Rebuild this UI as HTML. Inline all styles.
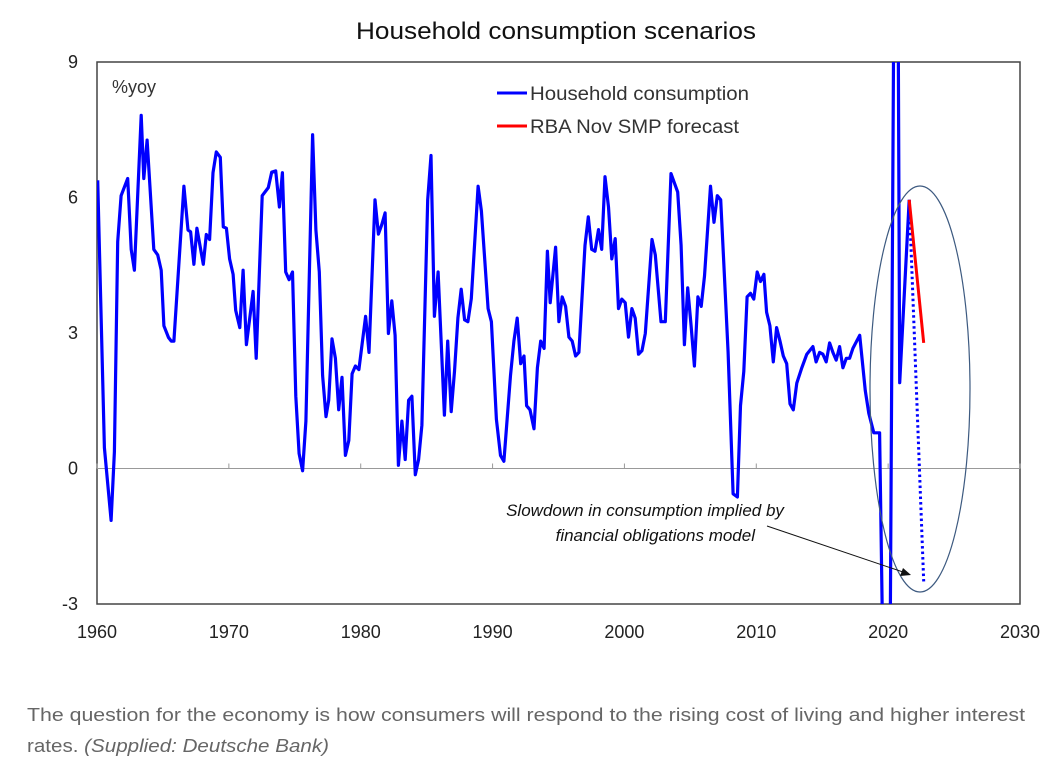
<!DOCTYPE html>
<html><head><meta charset="utf-8"><style>
html,body{margin:0;padding:0;background:#fff;overflow:hidden;width:1048px;height:768px;}
svg{display:block;font-family:"Liberation Sans",sans-serif;}
</style></head><body>
<svg id="chart" width="1048" height="768" viewBox="0 0 1048 768">
<text x="556" y="39" text-anchor="middle" font-size="24" fill="#111" textLength="400" lengthAdjust="spacingAndGlyphs">Household consumption scenarios</text>
<rect x="97" y="62" width="923" height="542" fill="none" stroke="#444" stroke-width="1.5"/>
<g id="axes"></g>
<text x="112" y="93" font-size="18" fill="#333">%yoy</text>
<line x1="497" y1="93" x2="527" y2="93" stroke="#0000ff" stroke-width="3"/>
<text x="530" y="100" font-size="19" fill="#333" textLength="219" lengthAdjust="spacingAndGlyphs">Household consumption</text>
<line x1="497" y1="126" x2="527" y2="126" stroke="#ff0000" stroke-width="3"/>
<text x="530" y="133" font-size="19" fill="#333" textLength="209" lengthAdjust="spacingAndGlyphs">RBA Nov SMP forecast</text>
<g id="series"></g>
<ellipse cx="920" cy="389" rx="50" ry="203" fill="none" stroke="#3d5a80" stroke-width="1.2"/>
<text x="645" y="516" text-anchor="middle" font-size="17" font-style="italic" fill="#111">Slowdown in consumption implied by</text>
<text x="755" y="541" text-anchor="end" font-size="17" font-style="italic" fill="#111">financial obligations model</text>
<line x1="767" y1="526" x2="903" y2="572" stroke="#111" stroke-width="1"/>
<polygon points="911,575 900,576 903,568" fill="#111"/>
<text x="27" y="721" font-size="18" fill="#666" textLength="998" lengthAdjust="spacingAndGlyphs">The question for the economy is how consumers will respond to the rising cost of living and higher interest</text>
<text x="27" y="752" font-size="18" fill="#666" textLength="302" lengthAdjust="spacingAndGlyphs">rates. <tspan font-style="italic">(Supplied: Deutsche Bank)</tspan></text>
</svg>
<script>
const years=[1960.05,1960.56,1961.07,1961.32,1961.57,1961.83,1962.33,1962.59,1962.84,1963.35,1963.55,1963.8,1964.31,1964.6,1964.87,1965.07,1965.42,1965.63,1965.83,1966.59,1966.9,1967.1,1967.35,1967.58,1968.06,1968.29,1968.54,1968.8,1969.05,1969.35,1969.58,1969.81,1970.06,1970.32,1970.52,1970.83,1971.08,1971.33,1971.84,1972.07,1972.53,1972.99,1973.25,1973.55,1973.83,1974.06,1974.31,1974.57,1974.83,1975.08,1975.33,1975.59,1975.84,1976.35,1976.6,1976.86,1977.11,1977.37,1977.57,1977.82,1978.08,1978.33,1978.58,1978.84,1979.1,1979.35,1979.6,1979.86,1980.37,1980.63,1981.08,1981.34,1981.6,1981.85,1982.1,1982.36,1982.61,1982.86,1983.12,1983.37,1983.63,1983.88,1984.14,1984.39,1984.64,1985.08,1985.33,1985.59,1985.87,1986.35,1986.6,1986.86,1987.11,1987.37,1987.62,1987.88,1988.13,1988.39,1988.9,1989.15,1989.66,1989.91,1990.29,1990.6,1990.86,1991.36,1991.62,1991.87,1992.13,1992.38,1992.58,1992.84,1993.14,1993.4,1993.65,1993.91,1994.16,1994.37,1994.78,1995.03,1995.28,1995.54,1995.79,1996.04,1996.3,1996.55,1997.01,1997.26,1997.52,1997.77,1998.03,1998.28,1998.53,1998.79,1999.04,1999.3,1999.55,1999.8,2000.06,2000.31,2000.57,2000.82,2001.07,2001.33,2001.58,2002.09,2002.34,2002.77,2003.1,2003.53,2004.04,2004.3,2004.55,2004.8,2005.06,2005.31,2005.57,2005.82,2006.07,2006.53,2006.79,2007.04,2007.3,2007.6,2007.86,2008.24,2008.57,2008.8,2009.05,2009.3,2009.56,2009.81,2010.07,2010.32,2010.58,2010.78,2011.03,2011.29,2011.54,2011.8,2012.05,2012.31,2012.56,2012.81,2013.07,2013.45,2013.83,2014.29,2014.54,2014.8,2015.05,2015.3,2015.56,2015.81,2016.06,2016.32,2016.57,2016.83,2017.08,2017.33,2017.84,2018.27,2018.53,2018.91,2019.35,2020.0,2020.62,2020.88,2021.6];
const values=[6.38,0.46,-1.15,0.37,5.02,6.04,6.42,4.85,4.39,7.82,6.42,7.27,4.85,4.73,4.39,3.16,2.9,2.82,2.82,6.25,5.28,5.24,4.52,5.32,4.52,5.18,5.07,6.55,7.01,6.89,5.35,5.32,4.64,4.3,3.5,3.12,4.39,2.74,3.92,2.44,6.04,6.22,6.56,6.59,5.79,6.55,4.35,4.18,4.35,1.6,0.33,-0.05,1.05,7.39,5.28,4.35,2.06,1.15,1.51,2.87,2.44,1.3,2.02,0.29,0.62,2.1,2.27,2.19,3.37,2.57,5.95,5.19,5.4,5.66,2.99,3.71,2.95,0.07,1.05,0.2,1.51,1.6,-0.14,0.2,0.96,5.95,6.93,3.37,4.35,1.18,2.82,1.26,2.15,3.33,3.97,3.29,3.25,3.76,6.25,5.7,3.54,3.25,1.09,0.29,0.16,2.06,2.82,3.33,2.32,2.49,1.39,1.3,0.88,2.23,2.82,2.66,4.81,3.67,4.9,3.25,3.8,3.59,2.91,2.82,2.49,2.57,4.94,5.57,4.85,4.81,5.29,4.85,6.46,5.79,4.64,5.09,3.54,3.75,3.67,2.91,3.54,3.33,2.53,2.61,2.99,5.07,4.73,3.25,3.25,6.53,6.12,4.94,2.74,4.0,3.16,2.27,3.8,3.59,4.26,6.25,5.45,6.04,5.95,4.18,2.57,-0.56,-0.63,1.39,2.15,3.8,3.88,3.75,4.35,4.14,4.3,3.46,3.16,2.36,3.12,2.82,2.49,2.32,1.43,1.3,1.89,2.23,2.53,2.7,2.36,2.57,2.53,2.36,2.78,2.57,2.4,2.7,2.23,2.44,2.44,2.66,2.95,1.72,1.22,0.79,0.79,-12,20,1.9,5.95];
const rbaYears=[2021.6,2022.7];
const rbaValues=[5.95,2.78];
const modelYears=[2021.6,2022.7];
const modelValues=[5.95,-2.5];
const yTicks=[9,6,3,0,-3];
const xTicks=[1960,1970,1980,1990,2000,2010,2020,2030];
const NS='http://www.w3.org/2000/svg';
const X=y=>97+(y-1960)*923/70;
const Y=v=>62+(9-v)*542/12;
const svg=document.getElementById('chart');
const axes=document.getElementById('axes');
const series=document.getElementById('series');
const defs=document.createElementNS(NS,'defs');
defs.innerHTML='<clipPath id="pc"><rect x="97" y="62" width="923" height="542"/></clipPath>';
svg.insertBefore(defs,svg.firstChild);
series.setAttribute('clip-path','url(#pc)');
const zl=document.createElementNS(NS,'line');
zl.setAttribute('x1',97);zl.setAttribute('x2',1020);zl.setAttribute('y1',Y(0));zl.setAttribute('y2',Y(0));
zl.setAttribute('stroke','#999');zl.setAttribute('stroke-width','1');


axes.appendChild(zl);
yTicks.forEach(t=>{
 const tx=document.createElementNS(NS,'text');
 tx.setAttribute('x',78);tx.setAttribute('y',Y(t)+6);tx.setAttribute('text-anchor','end');
 tx.setAttribute('font-size','18');tx.setAttribute('fill','#222');tx.textContent=t;
 
 
 axes.appendChild(tx);
});
xTicks.forEach(t=>{
 const tx=document.createElementNS(NS,'text');
 tx.setAttribute('x',X(t));tx.setAttribute('y',638);tx.setAttribute('text-anchor','middle');
 tx.setAttribute('font-size','18');tx.setAttribute('fill','#222');tx.textContent=t;
 
 
 axes.appendChild(tx);
 const tk=document.createElementNS(NS,'line');
 tk.setAttribute('x1',X(t));tk.setAttribute('x2',X(t));tk.setAttribute('y1',Y(0));tk.setAttribute('y2',Y(0)-5);
 tk.setAttribute('stroke','#999');
 
 
 axes.appendChild(tk);
});
function pts(xs,vs){return xs.map((y,i)=>X(y).toFixed(1)+','+Y(vs[i]).toFixed(1)).join(' ');}
const hc=document.createElementNS(NS,'polyline');
hc.setAttribute('points',pts(years,values));
hc.setAttribute('fill','none');hc.setAttribute('stroke','#0000ff');hc.setAttribute('stroke-width','3.2');hc.setAttribute('stroke-linejoin','round');


series.appendChild(hc);
const md=document.createElementNS(NS,'polyline');
md.setAttribute('points',pts(modelYears,modelValues));
md.setAttribute('fill','none');md.setAttribute('stroke','#0000ff');md.setAttribute('stroke-width','3');md.setAttribute('stroke-dasharray','2.5 3');


series.appendChild(md);
const rb=document.createElementNS(NS,'polyline');
rb.setAttribute('points',pts(rbaYears,rbaValues));
rb.setAttribute('fill','none');rb.setAttribute('stroke','#ff0000');rb.setAttribute('stroke-width','3');


series.appendChild(rb);
</script>
</body></html>
